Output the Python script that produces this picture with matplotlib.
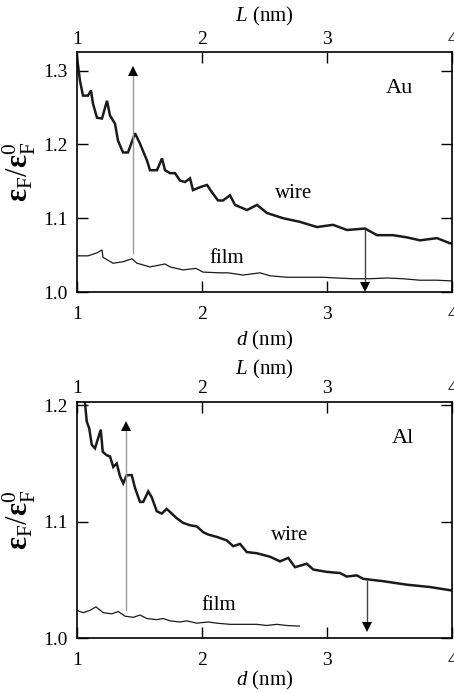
import numpy as np
import matplotlib
matplotlib.use('Agg')
import matplotlib.pyplot as plt

plt.rcParams['font.family'] = ['Liberation Serif', 'DejaVu Serif']
plt.rcParams['mathtext.fontset'] = 'custom'
plt.rcParams['mathtext.rm'] = 'Liberation Serif'
plt.rcParams['mathtext.it'] = 'Liberation Serif:italic'
plt.rcParams['mathtext.bf'] = 'Liberation Serif:bold'

# Au, wire (d in nm, eps_F/eps_F0)
au_wire_d = [1.00, 1.024, 1.048, 1.088, 1.112, 1.128, 1.16, 1.20, 1.24, 1.264, 1.304, 1.328,
             1.368, 1.408, 1.464, 1.504, 1.56, 1.584, 1.64, 1.68, 1.704, 1.744, 1.784, 1.824,
             1.864, 1.904, 1.928, 1.984, 2.04, 2.08, 2.128, 2.168, 2.224, 2.264, 2.36, 2.44,
             2.52, 2.648, 2.784, 2.92, 3.048, 3.16, 3.304, 3.40, 3.528, 3.64, 3.744, 3.88,
             3.984, 4.0]
au_wire_e = [1.318, 1.286, 1.266, 1.266, 1.273, 1.255, 1.236, 1.235, 1.259, 1.239, 1.228, 1.205,
             1.189, 1.189, 1.215, 1.201, 1.178, 1.165, 1.165, 1.181, 1.165, 1.161, 1.161, 1.151,
             1.149, 1.154, 1.138, 1.142, 1.145, 1.135, 1.124, 1.124, 1.131, 1.118, 1.111, 1.118,
             1.107, 1.100, 1.095, 1.088, 1.091, 1.084, 1.086, 1.077, 1.077, 1.074, 1.070, 1.073,
             1.066, 1.066]

# Au, film
au_film_d = [1.0, 1.088, 1.16, 1.20, 1.208, 1.288, 1.368, 1.44, 1.48, 1.584, 1.704, 1.744,
             1.848, 1.952, 2.008, 2.144, 2.208, 2.328, 2.464, 2.544, 2.68, 2.808, 2.968, 3.08,
             3.208, 3.344, 3.48, 3.608, 3.744, 3.88, 4.0]
au_film_e = [1.049, 1.049, 1.053, 1.057, 1.047, 1.039, 1.041, 1.045, 1.039, 1.034, 1.038, 1.034,
             1.030, 1.032, 1.027, 1.026, 1.026, 1.023, 1.026, 1.022, 1.020, 1.020, 1.020, 1.019,
             1.018, 1.018, 1.019, 1.018, 1.016, 1.016, 1.015]

# Al, wire
al_wire_d = [1.064, 1.078, 1.098, 1.118, 1.144, 1.170, 1.190, 1.206, 1.238, 1.264, 1.290, 1.318,
             1.344, 1.370, 1.398, 1.438, 1.464, 1.504, 1.530, 1.570, 1.598, 1.638, 1.678, 1.718,
             1.758, 1.798, 1.850, 1.904, 1.958, 2.010, 2.050, 2.118, 2.198, 2.250, 2.304, 2.358,
             2.438, 2.544, 2.624, 2.690, 2.744, 2.838, 2.890, 2.998, 3.104, 3.158, 3.238, 3.290,
             3.450, 3.638, 3.824, 4.0]
al_wire_e = [1.202, 1.186, 1.180, 1.166, 1.163, 1.172, 1.179, 1.160, 1.157, 1.156, 1.147, 1.150,
             1.139, 1.133, 1.140, 1.140, 1.129, 1.117, 1.117, 1.126, 1.121, 1.109, 1.107, 1.111,
             1.107, 1.103, 1.099, 1.097, 1.096, 1.091, 1.089, 1.087, 1.084, 1.079, 1.081, 1.074,
             1.073, 1.070, 1.066, 1.069, 1.061, 1.064, 1.059, 1.057, 1.056, 1.053, 1.054, 1.051,
             1.049, 1.046, 1.044, 1.041]

# Al, film
al_film_d = [1.0, 1.050, 1.104, 1.152, 1.210, 1.278, 1.330, 1.384, 1.450, 1.504, 1.558, 1.638,
             1.690, 1.744, 1.824, 1.878, 1.958, 2.050, 2.118, 2.224, 2.330, 2.438, 2.518, 2.598,
             2.678, 2.778]
al_film_e = [1.024, 1.022, 1.024, 1.027, 1.022, 1.021, 1.023, 1.019, 1.018, 1.020, 1.017, 1.016,
             1.017, 1.015, 1.014, 1.015, 1.013, 1.014, 1.013, 1.012, 1.012, 1.012, 1.011, 1.012,
             1.011, 1.0105]

# arrows: (d, start, end)
au_up = (1.45, 1.053, 1.304)
au_down = (3.30, 1.084, 1.003)
al_up = (1.39, 1.024, 1.186)
al_down = (3.32, 1.049, 1.006)

xticks = [1, 2, 3, 4]

panels = [
    dict(name='Au', wd=au_wire_d, we=au_wire_e, fd=au_film_d, fe=au_film_e,
         up=au_up, down=au_down, ylim=(1.0, 1.325), yticks=[1.0, 1.1, 1.2, 1.3],
         rect=[0.1696, 0.5786, 0.826, 0.3463], toppad=7, botpad=4,
         name_xy=(3.58, 1.276), wire_xy=(2.73, 1.133), film_xy=(2.2, 1.046)),
    dict(name='Al', wd=al_wire_d, we=al_wire_e, fd=al_film_d, fe=al_film_e,
         up=al_up, down=al_down, ylim=(1.0, 1.203), yticks=[1.0, 1.1, 1.2],
         rect=[0.1696, 0.0789, 0.826, 0.3415], toppad=4, botpad=0,
         name_xy=(3.61, 1.171), wire_xy=(2.70, 1.088), film_xy=(2.13, 1.028)),
]

fig = plt.figure(figsize=(4.54, 6.93), dpi=100)
for p in panels:
    ax = fig.add_axes(p['rect'])
    ax.plot(p['wd'], p['we'], color='#1a1a1a', lw=1.8, solid_joinstyle='miter')
    ax.plot(p['fd'], p['fe'], color='#1a1a1a', lw=0.9)

    d, y0, y1 = p['up']
    ax.plot([d, d], [y0, y1 - 0.006], color='#999999', lw=1.0)
    ax.plot([d], [y1 - 0.004], marker='^', color='black', ms=6.5, mew=0)
    d, y0, y1 = p['down']
    ax.plot([d, d], [y0, y1 + 0.006], color='#444444', lw=1.0)
    ax.plot([d], [y1 + 0.004], marker='v', color='black', ms=6.5, mew=0)

    ax.text(*p['name_xy'], p['name'], fontsize=16, ha='center', va='center')
    ax.text(*p['wire_xy'], 'wire', fontsize=15, ha='center', va='center')
    ax.text(*p['film_xy'], 'film', fontsize=15, ha='center', va='center')

    ax.set_xlim(1, 4)
    ax.set_ylim(*p['ylim'])
    ax.set_xticks(xticks)
    ax.set_yticks(p['yticks'])
    ax.set_yticklabels([f'{v:.1f}' for v in p['yticks']])
    ax.tick_params(direction='in', length=8, width=1.0, labelsize=14,
                   top=True, right=True)
    ax.tick_params(axis='x', pad=10)
    ax.tick_params(axis='y', pad=7)
    for s in ax.spines.values():
        s.set_linewidth(1.2)
    ax.set_xlabel('$d$ (nm)', fontsize=15, labelpad=p['botpad'])
    ax.set_ylabel(r'$\mathbf{\varepsilon}_\mathrm{F}/\mathbf{\varepsilon}_\mathrm{F}^0$',
                  fontsize=22)
    ax.yaxis.set_label_coords(-0.105, 0.5)

    sec = ax.secondary_xaxis('top')
    sec.set_xticks(xticks)
    sec.tick_params(length=0, labelsize=14, pad=3)
    sec.set_xlabel('$L$ (nm)', fontsize=15, labelpad=p['toppad'])
    sec.spines['top'].set_visible(False)

fig.savefig('out.png', dpi=100)
